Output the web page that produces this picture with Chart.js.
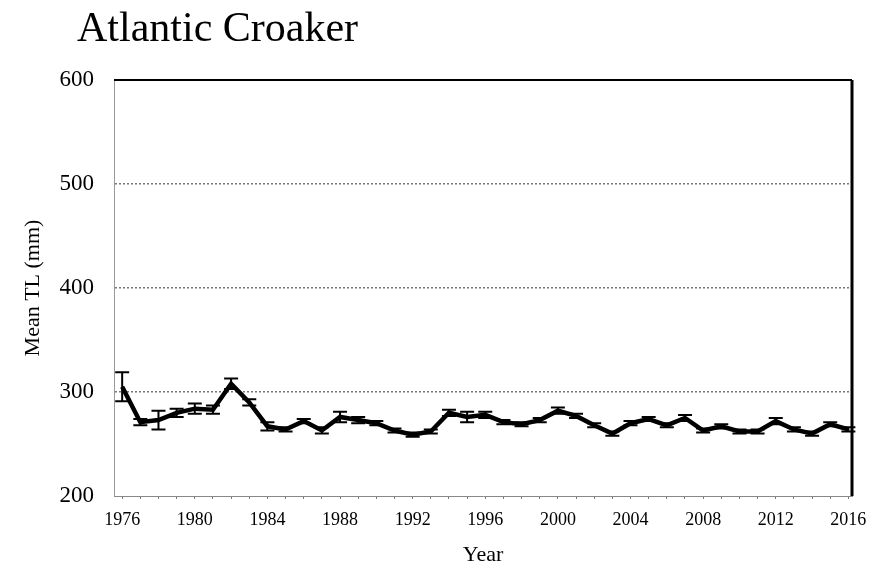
<!DOCTYPE html>
<html>
<head>
<meta charset="utf-8">
<script src="https://cdn.jsdelivr.net/npm/chart.js@4"></script>
<style>
  html, body { margin: 0; padding: 0; background: #fff; }
  #wrap { width: 891px; height: 576px; position: relative; }
</style>
</head>
<body>
<div id="wrap"><canvas id="croaker" width="891" height="576"></canvas></div>
<script>
const years = [1976, 1977, 1978, 1979, 1980, 1981, 1982, 1983, 1984, 1985, 1986, 1987, 1988, 1989,
  1990, 1991, 1992, 1993, 1994, 1995, 1996, 1997, 1998, 1999, 2000, 2001, 2002, 2003, 2004, 2005,
  2006, 2007, 2008, 2009, 2010, 2011, 2012, 2013, 2014, 2015, 2016];
const meanTL = [305, 271, 273, 280, 284, 283, 308, 290, 267, 264, 272, 263, 276, 273,
  270, 263, 259, 262, 280, 276, 278, 271, 269, 273, 282, 277, 268, 260, 270, 274,
  268, 275, 263, 267, 262, 262, 272, 264, 260, 269, 264];
const stdErr = [14, 3, 9, 4, 5, 4, 5, 3, 4, 2, 2, 3, 5, 3,
  2, 2, 2, 2, 3, 5, 3, 2, 2, 2, 3, 2, 2, 2, 2, 2,
  2, 3, 2, 2, 2, 2, 3, 2, 2, 2, 2];
const yTicks = [200, 300, 400, 500, 600];
const chartTitle = "Atlantic Croaker";

const serif = "'Liberation Serif', 'Times New Roman', serif";

const errorBars = {
  id: "errorBars",
  afterDatasetsDraw(chart) {
    const ctx = chart.ctx;
    const xs = chart.scales.x, ys = chart.scales.y;
    ctx.save();
    ctx.strokeStyle = "#000";
    ctx.lineWidth = 2;
    years.forEach((yr, i) => {
      const x = xs.getPixelForValue(yr);
      const top = ys.getPixelForValue(meanTL[i] + stdErr[i]);
      const bot = ys.getPixelForValue(meanTL[i] - stdErr[i]);
      ctx.beginPath();
      ctx.moveTo(x, top); ctx.lineTo(x, bot);
      ctx.moveTo(x - 7, top); ctx.lineTo(x + 7, top);
      ctx.moveTo(x - 7, bot); ctx.lineTo(x + 7, bot);
      ctx.stroke();
    });
    ctx.restore();
  }
};

const frame = {
  id: "frame",
  afterDraw(chart) {
    const a = chart.chartArea;
    const ctx = chart.ctx;
    ctx.save();
    ctx.strokeStyle = "#000";
    ctx.lineWidth = 2;
    ctx.beginPath();
    ctx.moveTo(a.left, a.top); ctx.lineTo(a.right, a.top);
    ctx.stroke();
    ctx.lineWidth = 3;
    ctx.beginPath();
    ctx.moveTo(a.right, a.top); ctx.lineTo(a.right, a.bottom);
    ctx.stroke();
    ctx.fillStyle = "#000";
    ctx.font = "42px " + serif;
    ctx.textBaseline = "alphabetic";
    ctx.fillText(chartTitle, 77, 41);
    ctx.restore();
  }
};

new Chart(document.getElementById("croaker"), {
  type: "line",
  data: {
    datasets: [{
      data: years.map((y, i) => ({ x: y, y: meanTL[i] })),
      borderColor: "#000",
      borderWidth: 4.5,
      pointRadius: 0,
      tension: 0,
      fill: false
    }]
  },
  options: {
    responsive: false,
    animation: false,
    layout: { padding: { top: 80, right: 39, left: 0, bottom: 0 } },
    plugins: { legend: { display: false }, tooltip: { enabled: false } },
    scales: {
      x: {
        type: "linear",
        min: 1975.55,
        max: 2016.2,
        afterFit: (s) => { s.height = 80; },
        afterBuildTicks: (s) => { s.ticks = years.map((v) => ({ value: v })); },
        ticks: {
          autoSkip: false,
          maxRotation: 0,
          color: "#000",
          padding: 10,
          font: { family: serif, size: 18 },
          callback: (v) => (v % 4 === 0 ? String(v) : "")
        },
        grid: { drawOnChartArea: false, drawTicks: true, tickLength: 3, color: "#777" },
        border: { display: true, color: "#888", width: 1, dash: [1, 2] },
        title: {
          display: true,
          text: "Year",
          color: "#000",
          font: { family: serif, size: 22 },
          padding: { top: 4, bottom: 8 }
        }
      },
      y: {
        min: 200,
        max: 600,
        afterFit: (s) => { s.width = 114; },
        afterBuildTicks: (s) => { s.ticks = yTicks.map((v) => ({ value: v })); },
        ticks: {
          color: "#000",
          padding: 20,
          font: { family: serif, size: 23 }
        },
        grid: {
          color: (c) => (c.tick && (c.tick.value === 200 || c.tick.value === 600) ? "rgba(0,0,0,0)" : "#777"),
          lineWidth: 1.5,
          drawTicks: false
        },
        border: { display: true, color: "#999", width: 1, dash: [2, 2] },
        title: {
          display: true,
          text: "Mean TL (mm)",
          color: "#000",
          font: { family: serif, size: 22 },
          padding: { top: 20, bottom: 0 }
        }
      }
    }
  },
  plugins: [errorBars, frame]
});
</script>
</body>
</html>
